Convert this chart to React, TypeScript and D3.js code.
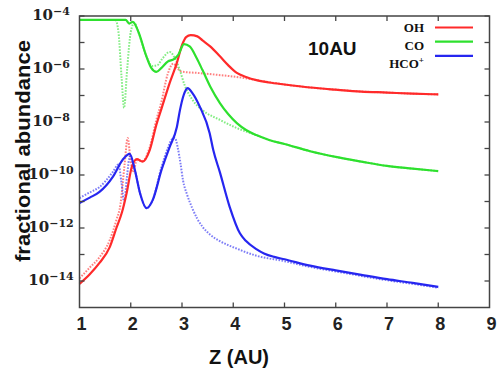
import React from "react";
import * as d3 from "d3";

// z (AU), fractional abundance
const ohSolid: [number, number][] = [
  [1.0, 7.8e-15], [1.2, 1.8e-14], [1.39, 4.8e-14], [1.59, 1.9e-13], [1.72, 1e-12],
  [1.83, 4e-12], [1.92, 2.1e-11], [2.02, 2e-10], [2.12, 4e-10], [2.23, 3.2e-10],
  [2.37, 8.7e-10], [2.5, 7.9e-9], [2.6, 3.2e-8], [2.76, 3e-7], [2.9, 1.7e-6],
  [3.0, 7.9e-6], [3.08, 1.6e-5], [3.17, 1.9e-5], [3.3, 1.7e-5], [3.4, 1.2e-5],
  [3.55, 7.1e-6], [3.74, 3e-6], [3.9, 1.4e-6], [4.07, 7.1e-7], [4.25, 5e-7],
  [4.45, 3.8e-7], [4.7, 3.1e-7], [5.0, 2.6e-7], [5.5, 2e-7], [6.0, 1.66e-7],
  [6.5, 1.41e-7], [7.0, 1.29e-7], [7.5, 1.17e-7], [8.0, 1.1e-7],
];
const ohDotted: [number, number][] = [
  [1.0, 1.26e-14], [1.2, 3.2e-14], [1.39, 7.9e-14], [1.59, 3.5e-13], [1.72, 2e-12],
  [1.8, 7.9e-12], [1.88, 2.5e-10], [1.94, 2.5e-9], [2.0, 3.2e-10], [2.05, 1.4e-10],
  [2.12, 3.6e-10], [2.23, 3.4e-10], [2.37, 1.1e-9], [2.5, 1.2e-8], [2.6, 6e-8],
  [2.72, 6.3e-7], [2.83, 1.6e-6], [2.92, 1e-6], [3.0, 7.9e-7], [3.3, 7.1e-7],
  [3.7, 6e-7], [4.07, 5e-7], [4.4, 4e-7], [4.7, 3.2e-7], [5.0, 2.6e-7],
  [5.5, 2e-7], [6.0, 1.66e-7], [6.5, 1.41e-7], [7.0, 1.29e-7], [7.5, 1.17e-7],
  [8.0, 1.1e-7],
];
const coSolid: [number, number][] = [
  [1.0, 7.1e-5], [1.5, 7.1e-5], [1.9, 7.1e-5], [1.97, 5.2e-5], [2.04, 6e-5],
  [2.15, 2.5e-5], [2.3, 3.2e-6], [2.4, 1.1e-6], [2.5, 7.8e-7], [2.6, 1.1e-6],
  [2.72, 1.9e-6], [2.85, 2.4e-6], [2.93, 3.5e-6], [3.04, 8.7e-6], [3.15, 7.1e-6],
  [3.29, 2.5e-6], [3.4, 9.1e-7], [3.55, 2.2e-7], [3.74, 5.2e-8], [3.9, 2e-8],
  [4.07, 9.1e-9], [4.25, 5e-9], [4.45, 3.2e-9], [4.7, 2.1e-9], [5.0, 1.48e-9],
  [5.5, 7.9e-10], [6.0, 4.8e-10], [6.5, 3.2e-10], [7.0, 2.2e-10], [7.5, 1.74e-10],
  [8.0, 1.4e-10],
];
const coDotted: [number, number][] = [
  [1.0, 7.1e-5], [1.7, 7.1e-5], [1.76, 2.5e-5], [1.82, 5e-7], [1.87, 3.4e-8],
  [1.93, 1e-6], [2.0, 2.5e-5], [2.07, 5.6e-5], [2.15, 2.5e-5], [2.3, 3.2e-6],
  [2.42, 1.3e-6], [2.52, 1.4e-6], [2.62, 2.5e-6], [2.76, 4.4e-6], [2.85, 2.8e-6],
  [2.95, 1e-6], [3.05, 2.5e-7], [3.2, 7.1e-8], [3.4, 2.8e-8], [3.74, 1.2e-8],
  [4.07, 5.9e-9], [4.45, 3.2e-9], [4.7, 2.1e-9], [5.0, 1.48e-9], [5.5, 7.9e-10],
  [6.0, 4.8e-10], [6.5, 3.2e-10], [7.0, 2.2e-10], [7.5, 1.74e-10], [8.0, 1.4e-10],
];
const hcoSolid: [number, number][] = [
  [1.0, 8.7e-12], [1.2, 1.4e-11], [1.39, 2.3e-11], [1.65, 8.5e-11], [1.84, 3.7e-10],
  [1.98, 6.3e-10], [2.08, 1.55e-10], [2.18, 2.1e-11], [2.31, 5.6e-12], [2.43, 1.15e-11],
  [2.6, 1.55e-10], [2.76, 1.15e-9], [2.9, 6.5e-9], [2.96, 2.8e-8], [3.03, 1e-7],
  [3.11, 1.9e-7], [3.2, 1.26e-7], [3.35, 3.7e-8], [3.54, 3.8e-9], [3.61, 8.7e-10],
  [3.74, 1.26e-10], [3.93, 6.3e-12], [4.13, 6.3e-13], [4.25, 3.2e-13], [4.45, 1.6e-13],
  [4.6, 1.1e-13], [4.8, 8.1e-14], [5.0, 6.6e-14], [5.5, 3.8e-14], [6.0, 2.5e-14],
  [6.5, 1.7e-14], [7.0, 1.17e-14], [7.5, 8.5e-15], [8.0, 6e-15],
];
const hcoDotted: [number, number][] = [
  [1.0, 1.35e-11], [1.2, 2.2e-11], [1.39, 3.5e-11], [1.65, 1.3e-10], [1.76, 2.5e-10],
  [1.82, 5e-11], [1.87, 1e-11], [1.93, 1e-10], [1.98, 5e-10], [2.08, 1.55e-10],
  [2.18, 2.1e-11], [2.31, 5.6e-12], [2.43, 1.15e-11], [2.6, 2e-10], [2.72, 1e-9],
  [2.8, 2.2e-9], [2.86, 2.5e-9], [2.92, 1e-9], [2.97, 2.8e-10], [3.02, 6.3e-11],
  [3.1, 1.8e-11], [3.2, 5.6e-12], [3.3, 2.2e-12], [3.4, 1.12e-12], [3.55, 5.6e-13],
  [3.74, 3.2e-13], [4.07, 1.66e-13], [4.46, 8.9e-14], [5.0, 5.6e-14], [5.5, 3.4e-14],
  [6.0, 2.3e-14], [6.5, 1.55e-14], [7.0, 1.07e-14], [7.5, 7.8e-15], [8.0, 5.6e-15],
];

const xTicks = [1, 2, 3, 4, 5, 6, 7, 8, 9];
const yLabelExps = [-4, -6, -8, -10, -12, -14];
const legendNames = ["OH", "CO", "HCO"];

const W = 499;
const H = 376;
const m = { left: 79.5, right: 489.5, top: 16, bottom: 307.5 };

const RED = "#ff2a2a";
const GREEN = "#2ee02e";
const BLUE = "#2626f0";
const AXIS = "#444";

export default function App() {
  const x = d3.scaleLinear().domain([1, 9]).range([m.left, m.right]);
  const y = d3.scaleLog().domain([1e-15, 1e-4]).range([m.bottom, m.top]);
  const line = d3
    .line<[number, number]>()
    .x((d) => x(d[0]))
    .y((d) => y(d[1]))
    .curve(d3.curveMonotoneX);

  const decades = d3.range(-15, -3).map((e) => Math.pow(10, e));

  const series = [
    { d: ohDotted, c: RED, dotted: true },
    { d: coDotted, c: GREEN, dotted: true },
    { d: hcoDotted, c: BLUE, dotted: true },
    { d: ohSolid, c: RED, dotted: false },
    { d: coSolid, c: GREEN, dotted: false },
    { d: hcoSolid, c: BLUE, dotted: false },
  ];

  const legendColors = [RED, GREEN, BLUE];
  const legendLineY = [27.5, 41.7, 55.8];
  const legendTextY = [32, 50, 68];

  return (
    <svg
      width={W}
      height={H}
      style={{ position: "fixed", left: 0, top: 0, background: "#fff" }}
    >
      {series.map((s, i) => (
        <path
          key={i}
          d={line(s.d) || ""}
          fill="none"
          stroke={s.c}
          strokeWidth={s.dotted ? 2 : 2.2}
          strokeDasharray={s.dotted ? "1.6,1.4" : undefined}
          strokeOpacity={s.dotted ? 0.6 : 1}
        />
      ))}

      {/* frame */}
      <rect
        x={m.left}
        y={m.top}
        width={m.right - m.left}
        height={m.bottom - m.top}
        fill="none"
        stroke={AXIS}
        strokeWidth={1.5}
      />

      {/* x ticks, top & bottom, pointing inward */}
      {xTicks.slice(1, -1).map((t) => (
        <g key={"xt" + t}>
          <line x1={x(t)} x2={x(t)} y1={m.bottom} y2={m.bottom - 5} stroke={AXIS} strokeWidth={1.3} />
          <line x1={x(t)} x2={x(t)} y1={m.top} y2={m.top + 5} stroke={AXIS} strokeWidth={1.3} />
        </g>
      ))}
      {xTicks.map((t) => (
        <text
          key={"xl" + t}
          x={x(t) + 2}
          y={330}
          textAnchor="middle"
          fontFamily="Liberation Sans, Arial, sans-serif"
          fontWeight="bold"
          fontSize={18}
          fill="#222"
        >
          {t}
        </text>
      ))}

      {/* y ticks, left & right, every decade */}
      {decades.slice(1).map((v, i) => (
        <g key={"yt" + i}>
          <line x1={m.left} x2={m.left + 5} y1={y(v)} y2={y(v)} stroke={AXIS} strokeWidth={1.3} />
          <line x1={m.right} x2={m.right - 5} y1={y(v)} y2={y(v)} stroke={AXIS} strokeWidth={1.3} />
        </g>
      ))}
      {yLabelExps.map((e) => (
        <text
          key={"yl" + e}
          x={51}
          y={y(Math.pow(10, e)) + 4}
          textAnchor="middle"
          fontFamily="DejaVu Serif, Liberation Serif, serif"
          fontWeight="bold"
          fontSize={15}
          fill="#222"
        >
          10
          <tspan dy={-5.5} fontSize={11}>
            {"\u2212" + Math.abs(e)}
          </tspan>
        </text>
      ))}

      {/* axis titles */}
      <text
        x={239}
        y={364}
        textAnchor="middle"
        fontFamily="Liberation Sans, Arial, sans-serif"
        fontWeight="bold"
        fontSize={20}
        fill="#111"
      >
        Z (AU)
      </text>
      <text
        transform={`translate(30,151) rotate(-90)`}
        textAnchor="middle"
        fontFamily="Liberation Sans, Arial, sans-serif"
        fontWeight="bold"
        fontSize={21}
        textLength={222}
        lengthAdjust="spacingAndGlyphs"
        fill="#111"
      >
        fractional abundance
      </text>

      {/* annotation */}
      <text
        x={308}
        y={55}
        fontFamily="Liberation Sans, Arial, sans-serif"
        fontWeight="bold"
        fontSize={19}
        fill="#111"
      >
        10AU
      </text>

      {/* legend */}
      {legendNames.map((n, i) => (
        <g key={"lg" + n}>
          <text
            x={424}
            y={legendTextY[i]}
            textAnchor="end"
            fontFamily="Liberation Serif, Times New Roman, serif"
            fontWeight="bold"
            fontSize={13}
            fill="#111"
          >
            {n}
            {n === "HCO" && (
              <tspan dy={-5} fontSize={9}>
                +
              </tspan>
            )}
          </text>
          <line
            x1={435}
            x2={473}
            y1={legendLineY[i]}
            y2={legendLineY[i]}
            stroke={legendColors[i]}
            strokeWidth={2.2}
          />
        </g>
      ))}
    </svg>
  );
}
